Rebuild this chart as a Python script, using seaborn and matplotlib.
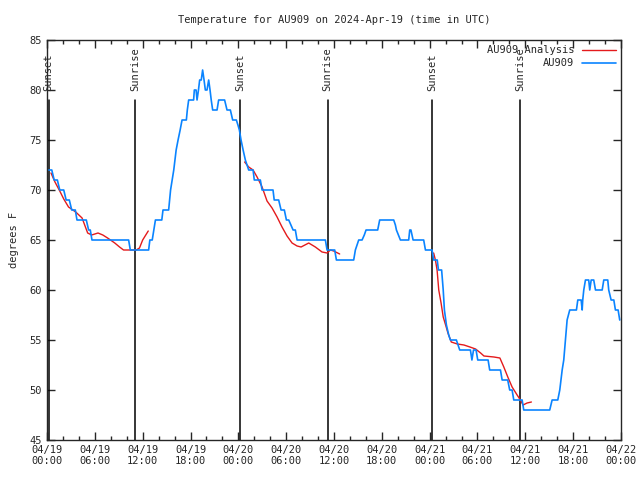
import numpy as np
import pandas as pd
import matplotlib
matplotlib.use("Agg")
import matplotlib.pyplot as plt
import seaborn as sns

# hours since 2024-04-19 00:00 UTC
obs_hours = [0.2, 0.6, 0.9, 1.3, 1.6, 2.1, 2.4, 2.8, 3.1, 3.55, 3.76, 4.93, 5.22, 5.43, 5.64,
             10.24, 10.45, 12.75, 12.9, 13.2, 13.4, 13.6, 14.4, 14.55, 15.26, 15.5, 15.9, 16.2,
             16.44, 16.7, 16.94, 17.48, 17.6, 17.77, 18.39, 18.48, 18.7, 18.82, 19.0, 19.15,
             19.35, 19.52, 19.7, 19.86, 20.07, 20.28, 20.45, 20.6, 20.78, 21.33, 21.53, 22.28,
             22.58, 23.0, 23.29, 23.75, 23.95, 24.13, 24.34, 24.6, 24.88, 25.3, 25.85, 26.0,
             26.76, 26.98, 28.35, 28.5, 29.06, 29.36, 29.77, 30.03, 30.32, 30.6, 30.87, 31.15,
             31.37, 34.92, 35.13, 36.09, 36.3, 38.47, 38.68, 39.1, 39.52, 39.8, 40.02, 41.48,
             41.73, 43.49, 43.7, 43.83, 44.33, 45.37, 45.5, 45.65, 45.92, 47.25, 47.47, 48.3,
             48.5, 48.95, 49.1, 49.5, 49.7, 49.85, 50.1, 50.39, 50.6, 51.35, 51.77, 53.11,
             53.3, 53.5, 53.82, 54.03, 55.33, 55.53, 56.88, 57.09, 57.79, 58.04, 58.34, 58.55,
             59.6, 59.8, 63.06, 63.36, 64.07, 64.32, 64.62, 64.82, 65.03, 65.24, 65.57, 66.41,
             66.58, 67.0, 67.13, 67.2, 67.33, 67.54, 67.95, 68.08, 68.26, 68.58, 68.8, 69.64,
             69.84, 70.34, 70.46, 70.76, 71.1, 71.3, 71.64, 71.84]
obs_temps = [72, 72, 71, 71, 70, 70, 69, 69, 68, 68, 67, 67, 66, 66, 65,
             65, 64, 64, 65, 65, 66, 67, 67, 68, 68, 70, 72, 74,
             75, 76, 77, 77, 78, 79, 79, 80, 80, 79, 80, 81,
             81, 82, 81, 80, 80, 81, 80, 79, 78, 78, 79, 79,
             78, 78, 77, 77, 76.5, 76, 75, 74, 73, 72, 72, 71,
             71, 70, 70, 69, 69, 68, 68, 67, 67, 66.5, 66, 66,
             65, 65, 64, 64, 63, 63, 64, 65, 65, 65.5, 66, 66,
             67, 67, 66.5, 66, 65, 65, 66, 66, 65, 65, 64, 64,
             63, 63, 62, 62, 60, 58, 56.5, 55.5, 55, 55, 54, 54,
             53, 54, 54, 53, 53, 52, 52, 51, 51, 50, 50, 49,
             49, 48, 48, 49, 49, 50, 52, 53, 55, 57, 58, 58,
             59, 59, 58, 59, 60, 61, 61, 60, 61, 61, 60, 60,
             61, 61, 60, 59, 59, 58, 58, 57]

# analysis runs, one list per run
ana1_hours = [0.5, 1.0, 1.6, 2.1, 2.7, 3.6, 4.4, 5.1, 5.6, 6.4, 7.0, 7.6, 8.5, 9.1, 9.6,
              10.4, 11.2, 11.6, 12.0, 12.7]
ana1_temps = [71.7, 70.8, 69.9, 69.1, 68.3, 67.8, 67.2, 65.7, 65.5, 65.7, 65.5, 65.2, 64.7,
              64.3, 64.0, 64.0, 64.0, 64.2, 65.0, 65.9]
ana2_hours = [24.79, 25.3, 25.85, 26.35, 26.98, 27.6, 28.23, 28.86, 29.48, 30.11, 30.74, 31.37,
              31.87, 32.83, 33.66, 34.5, 35.13, 35.55, 35.96, 36.71]
ana2_temps = [72.8, 72.3, 72.0, 71.3, 70.3, 68.9, 68.2, 67.3, 66.3, 65.4, 64.7, 64.4,
              64.3, 64.7, 64.3, 63.8, 63.7, 64.0, 63.9, 63.6]
ana3_hours = [48.5, 48.72, 48.93, 49.14, 49.43, 49.7, 50.0, 50.29, 50.71, 51.47, 52.3, 53.05,
              53.76, 54.39, 54.81, 56.06, 56.81, 57.3, 57.8, 58.34, 58.97, 59.3, 59.72, 60.22,
              60.76]
ana3_temps = [63.7, 63.0, 62.0, 60.0, 58.7, 57.3, 56.5, 55.7, 54.8, 54.6, 54.5, 54.3,
              54.1, 53.7, 53.4, 53.3, 53.2, 52.3, 51.3, 50.3, 49.5, 49.1, 48.5, 48.7,
              48.8]

sun_hours = [0.2, 11.1, 24.25, 35.2, 48.3, 59.3]
sun_labels = ["Sunset", "Sunrise", "Sunset", "Sunrise", "Sunset", "Sunrise"]

tick_hours = list(range(0, 73, 6))
tick_labels = ["04/19\n00:00", "04/19\n06:00", "04/19\n12:00", "04/19\n18:00",
               "04/20\n00:00", "04/20\n06:00", "04/20\n12:00", "04/20\n18:00",
               "04/21\n00:00", "04/21\n06:00", "04/21\n12:00", "04/21\n18:00",
               "04/22\n00:00"]

sns.set_style("ticks")
plt.rcParams["font.family"] = ["DejaVu Sans Mono"]
plt.rcParams["font.size"] = 7

fig = plt.figure(figsize=(6.4, 4.8), dpi=100)
ax = fig.add_axes([47 / 640, 40 / 480, 574 / 640, 400 / 480])

obs = pd.DataFrame({"hour": obs_hours, "temp": obs_temps})
ana = pd.concat([
    pd.DataFrame({"hour": ana1_hours, "temp": ana1_temps, "run": 1}),
    pd.DataFrame({"hour": ana2_hours, "temp": ana2_temps, "run": 2}),
    pd.DataFrame({"hour": ana3_hours, "temp": ana3_temps, "run": 3}),
])

sns.lineplot(data=ana, x="hour", y="temp", units="run", estimator=None, color="#e41a1c",
             lw=1, sort=False, ax=ax, label="AU909 Analysis")
sns.lineplot(data=obs, x="hour", y="temp", color="#0a84ff", lw=1.2, sort=False,
             estimator=None, ax=ax, label="AU909")

for h, lab in zip(sun_hours, sun_labels):
    ax.plot([h, h], [45, 79], color="black", lw=1.1, zorder=1)
    ax.text(h, 79.9, lab, rotation=90, ha="center", va="bottom", fontsize=7.5)

ax.set_xlim(0, 72)
ax.set_ylim(45, 85)
ax.set_xticks(tick_hours)
ax.set_xticklabels(tick_labels)
ax.set_xticks(range(0, 73, 2), minor=True)
ax.set_yticks(range(45, 86, 5))
ax.tick_params(direction="in", top=True, right=True, length=6, width=1, labelsize=7.5)
ax.tick_params(which="minor", direction="in", top=True, right=True, length=3, width=1)
for s in ax.spines.values():
    s.set_linewidth(1)
ax.set_xlabel("")
ax.set_ylabel("degrees F", fontsize=7.5, labelpad=8)
ax.set_title("Temperature for AU909 on 2024-Apr-19 (time in UTC)", fontsize=7.5, pad=12)

handles, labels = ax.get_legend_handles_labels()
uniq = dict(zip(labels, handles))
ax.legend(uniq.values(), uniq.keys(), loc="upper right", frameon=False, markerfirst=False,
          fontsize=7.5, handlelength=3.2, borderaxespad=0.1, labelspacing=0.3,
          handletextpad=0.8)

fig.savefig("out.png", dpi=100)
